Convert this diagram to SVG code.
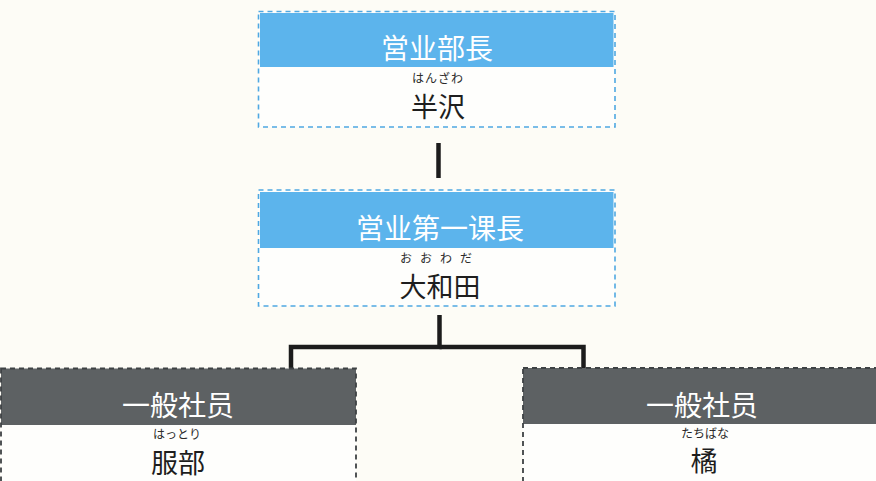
<svg xmlns="http://www.w3.org/2000/svg" width="876" height="481" viewBox="0 0 876 481">
<style>
.bg{fill:#fdfcf6}
.hb{fill:#5cb4ec}
.hg{fill:#5d6163}
.bb{fill:none;stroke:#4fa8e2;stroke-width:1.6;stroke-dasharray:5 4}
.bg2{fill:none;stroke:#3e4244;stroke-width:1.8;stroke-dasharray:5 4}
.t{font-family:"Noto Sans CJK JP","Noto Sans CJK SC",sans-serif;text-anchor:middle}
.h{fill:#ffffff;font-size:28px}
.f{fill:#2a2a2a;font-size:12px}
.n{fill:#1e1e1e;font-size:27px}
.c{fill:none;stroke:#1c1c1c;stroke-width:4.5}
</style>
<rect class="bg" x="0" y="0" width="876" height="481"/>
<g id="connectors">
<line class="c" x1="438.5" y1="143" x2="438.5" y2="178"/>
<polyline class="c" points="439.5,315 439.5,347 291,347 291,370"/>
<polyline class="c" points="439.5,347 583.5,347 583.5,370"/>
</g>
<g id="node-bucho">
<rect x="258.5" y="11.5" width="356.5" height="115.5" fill="#fefefc"/>
<rect class="hb" x="260" y="13" width="353.5" height="54"/>
<rect class="bb" x="258.5" y="11.5" width="356.5" height="115.5"/>
<text class="t h" x="437" y="59">営业部長</text>
<text class="t f" x="438" y="83" letter-spacing="1">はんざわ</text>
<text class="t n" x="438" y="117">半沢</text>
</g>
<g id="node-kacho">
<rect x="258.5" y="190" width="356.5" height="116" fill="#fefefc"/>
<rect class="hb" x="260" y="192" width="353.5" height="56"/>
<rect class="bb" x="258.5" y="190" width="356.5" height="116"/>
<text class="t h" x="440" y="239">営业第一课長</text>
<text class="t f" x="440" y="263" letter-spacing="8">おおわだ</text>
<text class="t n" x="440" y="297">大和田</text>
</g>
<g id="node-hattori">
<rect x="1" y="368.5" width="355" height="120" fill="#fefefc"/>
<rect class="hg" x="1" y="368.5" width="355" height="56.5"/>
<rect class="bg2" x="1" y="368.5" width="355" height="120"/>
<text class="t h" x="178" y="416">一般社员</text>
<text class="t f" x="177" y="439" font-size="11">はっとり</text>
<text class="t n" x="178" y="473" font-size="26">服部</text>
</g>
<g id="node-tachibana">
<rect x="523" y="368" width="360" height="120" fill="#fefefc"/>
<rect class="hg" x="523" y="368" width="360" height="56"/>
<rect class="bg2" x="523" y="368" width="360" height="120"/>
<text class="t h" x="702" y="416">一般社员</text>
<text class="t f" x="705" y="438" font-size="11">たちばな</text>
<text class="t n" x="704" y="471" font-size="26">橘</text>
</g>
</svg>
